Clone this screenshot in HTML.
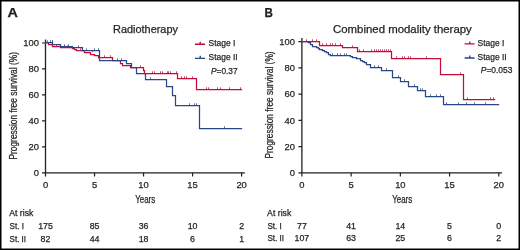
<!DOCTYPE html><html><head><meta charset="utf-8"><style>html,body{margin:0;padding:0;background:#fff;}svg{display:block}text{filter:grayscale(1);stroke:#231f20;stroke-width:0.25px}</style></head><body><svg width="520" height="250" viewBox="0 0 520 250">
<rect x="0" y="0" width="520" height="250" fill="#fff"/>
<g font-family='"Liberation Sans", sans-serif' fill="#231f20">
<text x="7.6" y="16.5" font-size="12.2" textLength="10.4" lengthAdjust="spacingAndGlyphs" font-weight="bold">A</text>
<text x="264.6" y="16.5" font-size="12.2" textLength="8.4" lengthAdjust="spacingAndGlyphs" font-weight="bold">B</text>
<text x="113" y="33" font-size="10.8" textLength="65" lengthAdjust="spacingAndGlyphs">Radiotherapy</text>
<text x="333" y="32.8" font-size="10.8" textLength="138.8" lengthAdjust="spacingAndGlyphs">Combined modality therapy</text>
<path d="M45.5,39.4 V172.8 H244.79999999999998" fill="none" stroke="#231f20" stroke-width="1.3"/>
<path d="M42.0,172.80H45.5M42.0,146.84H45.5M42.0,120.88H45.5M42.0,94.92H45.5M42.0,68.96H45.5M42.0,43.00H45.5M45.50,172.8V176.4M94.53,172.8V176.4M143.55,172.8V176.4M192.57,172.8V176.4M241.60,172.8V176.4" fill="none" stroke="#231f20" stroke-width="1.2"/>
<text x="38.9" y="176.10" font-size="9.4" text-anchor="end">0</text>
<text x="38.9" y="150.14" font-size="9.4" text-anchor="end">20</text>
<text x="38.9" y="124.18" font-size="9.4" text-anchor="end">40</text>
<text x="38.9" y="98.22" font-size="9.4" text-anchor="end">60</text>
<text x="38.9" y="72.26" font-size="9.4" text-anchor="end">80</text>
<text x="38.9" y="46.30" font-size="9.4" text-anchor="end">100</text>
<text x="45.50" y="187.6" font-size="9.4" text-anchor="middle">0</text>
<text x="94.53" y="187.6" font-size="9.4" text-anchor="middle">5</text>
<text x="143.55" y="187.6" font-size="9.4" text-anchor="middle">10</text>
<text x="192.57" y="187.6" font-size="9.4" text-anchor="middle">15</text>
<text x="241.60" y="187.6" font-size="9.4" text-anchor="middle">20</text>
<text transform="translate(17.2,105.8) rotate(-90)" x="0" y="0" font-size="10.6" text-anchor="middle" textLength="107.6" lengthAdjust="spacingAndGlyphs">Progression free survival (%)</text>
<path d="M301.9,38.1 V172.8 H502.0" fill="none" stroke="#231f20" stroke-width="1.3"/>
<path d="M298.4,172.80H301.9M298.4,146.58H301.9M298.4,120.36H301.9M298.4,94.14H301.9M298.4,67.92H301.9M298.4,41.70H301.9M301.90,172.8V176.4M351.12,172.8V176.4M400.35,172.8V176.4M449.57,172.8V176.4M498.80,172.8V176.4" fill="none" stroke="#231f20" stroke-width="1.2"/>
<text x="295.0" y="176.10" font-size="9.4" text-anchor="end">0</text>
<text x="295.0" y="149.88" font-size="9.4" text-anchor="end">20</text>
<text x="295.0" y="123.66" font-size="9.4" text-anchor="end">40</text>
<text x="295.0" y="97.44" font-size="9.4" text-anchor="end">60</text>
<text x="295.0" y="71.22" font-size="9.4" text-anchor="end">80</text>
<text x="295.0" y="45.00" font-size="9.4" text-anchor="end">100</text>
<text x="301.90" y="187.6" font-size="9.4" text-anchor="middle">0</text>
<text x="351.12" y="187.6" font-size="9.4" text-anchor="middle">5</text>
<text x="400.35" y="187.6" font-size="9.4" text-anchor="middle">10</text>
<text x="449.57" y="187.6" font-size="9.4" text-anchor="middle">15</text>
<text x="498.80" y="187.6" font-size="9.4" text-anchor="middle">20</text>
<text transform="translate(273.4,105.0) rotate(-90)" x="0" y="0" font-size="10.6" text-anchor="middle" textLength="107.2" lengthAdjust="spacingAndGlyphs">Progression free survival (%)</text>
<text x="135.2" y="202.8" font-size="10.5" textLength="20.0" lengthAdjust="spacingAndGlyphs">Years</text>
<text x="392.2" y="202.8" font-size="10.5" textLength="20.0" lengthAdjust="spacingAndGlyphs">Years</text>
<path d="M195,44.2h10M200.2,43.6v-1.9" fill="none" stroke="#c20d3a" stroke-width="1.35"/>
<path d="M195,58.3h10M200.2,57.7v-1.9" fill="none" stroke="#284784" stroke-width="1.35"/>
<text x="208.6" y="46" font-size="9.2" textLength="26.8" lengthAdjust="spacingAndGlyphs">Stage I</text>
<text x="208.6" y="60.3" font-size="9.2" textLength="29" lengthAdjust="spacingAndGlyphs">Stage II</text>
<text x="211.0" y="73.6" font-size="9.2" textLength="26.6" lengthAdjust="spacingAndGlyphs"><tspan font-style="italic">P</tspan>=0.37</text>
<path d="M464.6,43.900000000000006h10M469.8,43.300000000000004v-1.9" fill="none" stroke="#c20d3a" stroke-width="1.35"/>
<path d="M464.6,58.0h10M469.8,57.400000000000006v-1.9" fill="none" stroke="#284784" stroke-width="1.35"/>
<text x="477.6" y="45.7" font-size="9.2" textLength="26.8" lengthAdjust="spacingAndGlyphs">Stage I</text>
<text x="477.6" y="60.0" font-size="9.2" textLength="29" lengthAdjust="spacingAndGlyphs">Stage II</text>
<text x="480.8" y="73.3" font-size="9.2" textLength="31.6" lengthAdjust="spacingAndGlyphs"><tspan font-style="italic">P</tspan>=0.053</text>
<path d="M45.5,42.5H48.5V44.5H50.5V44.5H52.5V46.5H60.5V47.5H72.5V48.5H74.5V49.5H76.5V50.5H84.5V52.5H90.5V54.5H94.5V55.5H98.5V57.5H112.5V60.5H120.5V63.5H122.5V65.5H130.5V67.5H143.5V70.5H144.5V73.5H177.5V78.5H196.5V89.5H241.5" fill="none" stroke="#c20d3a" stroke-width="1.25" stroke-linejoin="miter" stroke-linecap="square"/>
<path d="M45.5,42.5H52.5V44.5H60.5V46.5H72.5V47.5H82.5V50.5H99.5V60.5H126.5V63.5H131.5V67.5H136.5V73.5H145.5V79.5H166.5V86.5H172.5V95.5H175.5V105.5H199.5V128.5H241.5" fill="none" stroke="#284784" stroke-width="1.25" stroke-linejoin="miter" stroke-linecap="square"/>
<path d="M301.5,41.5H319.5V45.5H342.5V47.5H357.5V51.5H391.5V58.5H440.5V74.5H463.5V99.5H494.5" fill="none" stroke="#c20d3a" stroke-width="1.25" stroke-linejoin="miter" stroke-linecap="square"/>
<path d="M301.5,41.5H308.5V42.5H310.5V44.5H312.5V46.5H316.5V47.5H318.5V48.5H319.5V49.5H322.5V50.5H324.5V51.5H326.5V52.5H328.5V54.5H330.5V55.5H350.5V56.5H352.5V57.5H356.5V58.5H358.5V58.5H360.5V60.5H362.5V61.5H364.5V62.5H366.5V64.5H370.5V67.5H381.5V70.5H392.5V77.5H400.5V81.5H408.5V86.5H417.5V90.5H425.5V96.5H443.5V104.5H498.5" fill="none" stroke="#284784" stroke-width="1.25" stroke-linejoin="miter" stroke-linecap="square"/>
<path d="M206.5,89.2v-1.9M208.5,89.2v-1.9M217.5,89.2v-1.9M220.5,89.2v-1.9M229.5,89.2v-1.9M240.5,89.2v-1.9M181.5,78.2v-1.9M184.5,78.2v-1.9M186.5,78.2v-1.9M192.5,78.2v-1.9M162.5,73.2v-1.9M167.5,73.2v-1.9M168.5,73.2v-1.9M170.5,73.2v-1.9M176.5,73.2v-1.9M152.5,73.2v-1.9M154.5,73.2v-1.9M160.5,73.2v-1.9M140.5,67.2v-1.9M104.5,57.2v-1.9M110.5,57.2v-1.9M80.5,50.2v-1.9M64.5,47.2v-1.9M67.5,47.2v-1.9M56.5,46.2v-1.9M92.5,52.2v-1.9M47.5,42.2v-1.9" fill="none" stroke="#c20d3a" stroke-width="0.75"/>
<path d="M224.5,128.2v-1.9M196.5,105.2v-1.9M194.5,105.2v-1.9M189.5,105.2v-1.9M150.5,79.2v-1.9M121.5,60.2v-1.9M117.5,60.2v-1.9M98.5,50.2v-1.9M94.5,50.2v-1.9M86.5,50.2v-1.9M78.5,47.2v-1.9M68.5,46.2v-1.9M64.5,46.2v-1.9M50.5,42.2v-1.9M52.5,42.2v-1.9M52.5,42.2v-1.9" fill="none" stroke="#284784" stroke-width="0.75"/>
<path d="M306.5,41.2v-1.9M312.5,41.2v-1.9M316.5,41.2v-1.9M322.5,45.2v-1.9M326.5,45.2v-1.9M330.5,45.2v-1.9M332.5,45.2v-1.9M335.5,45.2v-1.9M340.5,45.2v-1.9M352.5,47.2v-1.9M359.5,51.2v-1.9M363.5,51.2v-1.9M371.5,51.2v-1.9M374.5,51.2v-1.9M376.5,51.2v-1.9M378.5,51.2v-1.9M380.5,51.2v-1.9M382.5,51.2v-1.9M384.5,51.2v-1.9M386.5,51.2v-1.9M388.5,51.2v-1.9M390.5,51.2v-1.9M396.5,58.2v-1.9M402.5,58.2v-1.9M404.5,58.2v-1.9M408.5,58.2v-1.9M410.5,58.2v-1.9M426.5,58.2v-1.9M460.5,74.2v-1.9M467.5,99.2v-1.9M490.5,99.2v-1.9M493.5,99.2v-1.9" fill="none" stroke="#c20d3a" stroke-width="0.75"/>
<path d="M332.5,55.2v-1.9M337.5,55.2v-1.9M340.5,55.2v-1.9M344.5,55.2v-1.9M346.5,55.2v-1.9M374.5,67.2v-1.9M378.5,67.2v-1.9M386.5,70.2v-1.9M398.5,77.2v-1.9M404.5,81.2v-1.9M414.5,86.2v-1.9M420.5,90.2v-1.9M422.5,90.2v-1.9M430.5,96.2v-1.9M436.5,96.2v-1.9M440.5,96.2v-1.9M446.5,104.2v-1.9M458.5,104.2v-1.9M466.5,104.2v-1.9M474.5,104.2v-1.9M485.5,104.2v-1.9" fill="none" stroke="#284784" stroke-width="0.75"/>
<text x="9.2" y="215.9" font-size="8.6" textLength="24.2" lengthAdjust="spacingAndGlyphs">At risk</text>
<text x="9.5" y="228.9" font-size="8.6" textLength="14.4" lengthAdjust="spacingAndGlyphs">St. I</text>
<text x="9.5" y="241.5" font-size="8.6" textLength="16.6" lengthAdjust="spacingAndGlyphs">St. II</text>
<text x="45.50" y="228.9" font-size="8.8" text-anchor="middle">175</text>
<text x="94.53" y="228.9" font-size="8.8" text-anchor="middle">85</text>
<text x="143.55" y="228.9" font-size="8.8" text-anchor="middle">36</text>
<text x="192.57" y="228.9" font-size="8.8" text-anchor="middle">10</text>
<text x="241.60" y="228.9" font-size="8.8" text-anchor="middle">2</text>
<text x="45.50" y="241.5" font-size="8.8" text-anchor="middle">82</text>
<text x="94.53" y="241.5" font-size="8.8" text-anchor="middle">44</text>
<text x="143.55" y="241.5" font-size="8.8" text-anchor="middle">18</text>
<text x="192.57" y="241.5" font-size="8.8" text-anchor="middle">6</text>
<text x="241.60" y="241.5" font-size="8.8" text-anchor="middle">1</text>
<text x="267.1" y="215.9" font-size="8.6" textLength="24.2" lengthAdjust="spacingAndGlyphs">At risk</text>
<text x="267.40000000000003" y="228.6" font-size="8.6" textLength="14.4" lengthAdjust="spacingAndGlyphs">St. I</text>
<text x="267.40000000000003" y="241.1" font-size="8.6" textLength="16.6" lengthAdjust="spacingAndGlyphs">St. II</text>
<text x="301.90" y="228.6" font-size="8.8" text-anchor="middle">77</text>
<text x="351.12" y="228.6" font-size="8.8" text-anchor="middle">41</text>
<text x="400.35" y="228.6" font-size="8.8" text-anchor="middle">14</text>
<text x="449.57" y="228.6" font-size="8.8" text-anchor="middle">5</text>
<text x="498.80" y="228.6" font-size="8.8" text-anchor="middle">0</text>
<text x="301.90" y="241.1" font-size="8.8" text-anchor="middle">107</text>
<text x="351.12" y="241.1" font-size="8.8" text-anchor="middle">63</text>
<text x="400.35" y="241.1" font-size="8.8" text-anchor="middle">25</text>
<text x="449.57" y="241.1" font-size="8.8" text-anchor="middle">6</text>
<text x="498.80" y="241.1" font-size="8.8" text-anchor="middle">2</text>
</g>
<rect x="0.75" y="0.75" width="518.5" height="248.5" fill="none" stroke="#000" stroke-width="1.5"/>
</svg></body></html>
